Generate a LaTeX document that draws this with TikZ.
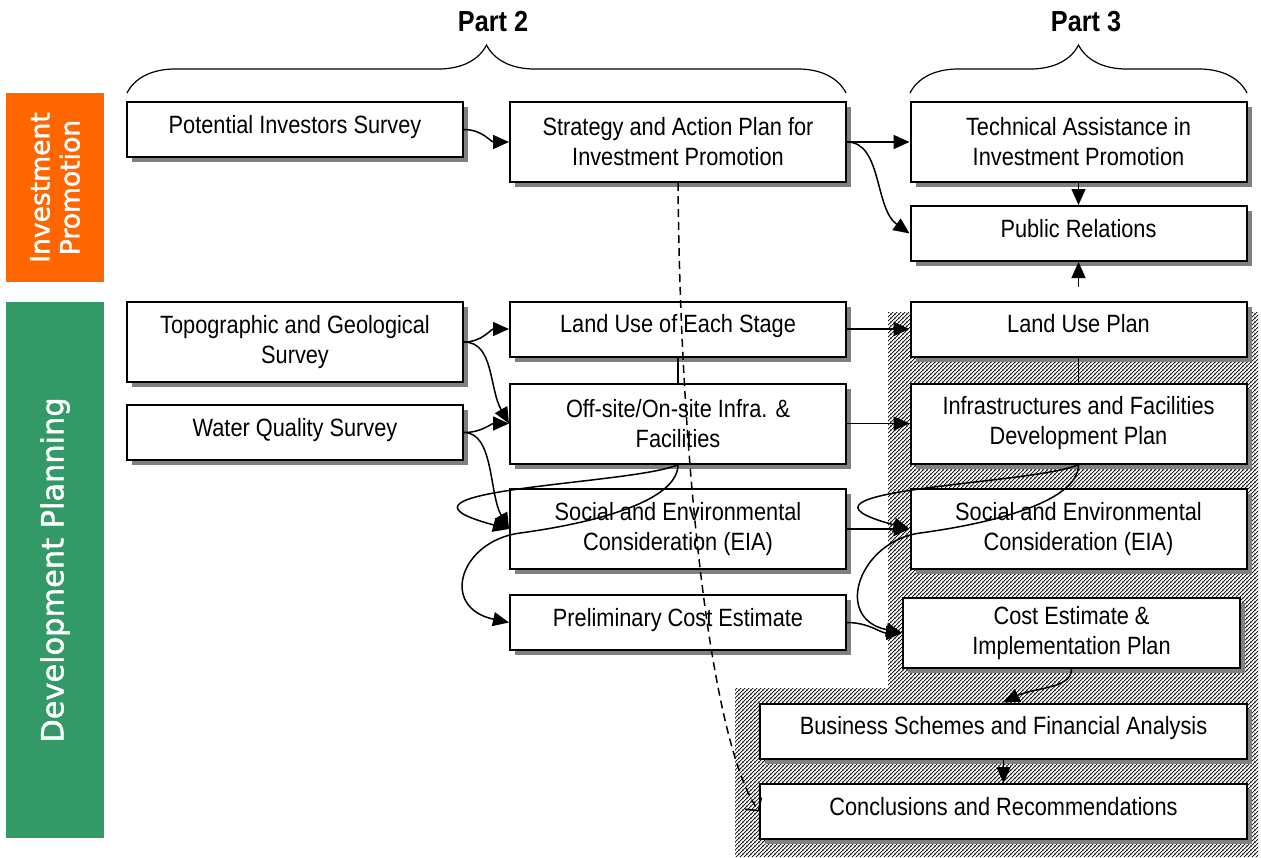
\documentclass[tikz,border=0pt]{standalone}
\usepackage{fontspec}
\setmainfont{Liberation Sans}[FakeStretch=0.87]
\newfontfamily\bandfont{DejaVu Sans}[FakeBold=1.5]
\usetikzlibrary{arrows.meta,shadows,decorations.pathreplacing,patterns.meta}
\definecolor{promoorange}{HTML}{FF6600}
\definecolor{plangreen}{HTML}{339966}
\tikzdeclarepattern{
  name=hatchlines,
  type=uncolored,
  bounding box={(0pt,0pt) and (2.1pt,2.1pt)},
  tile size={(2.1pt,2.1pt)},
  code={
    \draw[line width=0.42pt] (-1pt,-1pt) -- (3.1pt,3.1pt);
    \draw[line width=0.42pt] (-1pt,1.1pt) -- (1pt,3.1pt);
    \draw[line width=0.42pt] (1.1pt,-1pt) -- (3.1pt,1pt);
  }
}

\begin{document}
\begin{tikzpicture}[x=0.5pt, y=-0.5pt,
    font=\fontsize{12.5}{15}\selectfont,
    box/.style={draw, line width=1pt, fill=white, align=center, inner sep=2pt,
      minimum width=168pt, minimum height=27.5pt, text height=9.2pt, text depth=5.5pt,
      drop shadow={shadow xshift=2.5pt, shadow yshift=-2.5pt, fill=black!50, opacity=1}},
    tall/.style={box, minimum height=40pt, text height=, text depth=},
    wide/.style={box, minimum width=243.5pt},
    band/.style={rotate=90, text=white, align=center, inner sep=0pt, minimum height=49pt},
    parttitle/.style={font=\fontsize{14.5}{17}\selectfont\bfseries},
    partbrace/.style={decorate, decoration={brace, amplitude=24pt}, line width=0.6pt},
    arr/.style={line width=0.75pt, -{Triangle[length=8pt,width=7pt]}},
    link/.style={line width=0.75pt},
    dashline/.style={line width=0.75pt, dash pattern=on 4pt off 2.5pt, -{Straight Barb[length=4.5pt,width=10pt]}}]
    \useasboundingbox (0,0) rectangle (1261,857);

    \fill[pattern=hatchlines, pattern color=black] (888,312) -- (1258,312) -- (1258,857) -- (735,857) -- (735,688) -- (888,688) -- cycle;

    \node[band, fill=promoorange, minimum width=94.5pt, font=\bandfont\fontsize{13.3}{15}\selectfont] (ipband) at (55,187.5) {Investment\\Promotion};
    \node[band, fill=plangreen, minimum width=268pt, font=\bandfont\fontsize{15.2}{18}\selectfont] (dpband) at (55,570) {Development Planning};

    \draw[partbrace] (127,93) -- (846,93);
    \draw[partbrace] (910,93) -- (1247,93);
    \node[parttitle] (parttwo) at (493,22) {Part 2};
    \node[parttitle] (partthree) at (1086,22) {Part 3};

    \node[box] (pis) at (295,129.5) {Potential Investors Survey};
    \node[tall] (sap) at (678,142) {Strategy and Action Plan for\\Investment Promotion};
    \node[tall] (tai) at (1078.5,142) {Technical Assistance in\\Investment Promotion};
    \node[box] (pr) at (1078.5,233.5) {Public Relations};
    \node[tall] (tgs) at (295,342) {Topographic and Geological\\Survey};
    \node[box] (wqs) at (295,432.5) {Water Quality Survey};
    \node[box] (lue) at (678,329) {Land Use of Each Stage};
    \node[tall] (osi) at (678,423.5) {Off-site/On-site Infra. \&\\Facilities};
    \node[tall] (sec) at (678,529) {Social and Environmental\\Consideration (EIA)};
    \node[box] (pce) at (678,622.5) {Preliminary Cost Estimate};
    \node[box] (lup) at (1078.5,329) {Land Use Plan};
    \node[tall] (ifd) at (1078.5,423.5) {Infrastructures and Facilities\\Development Plan};
    \node[tall] (secp) at (1078.5,529) {Social and Environmental\\Consideration (EIA)};
    \node[tall, minimum width=168.5pt, minimum height=35pt] (cei) at (1071.5,633) {Cost Estimate \&\\Implementation Plan};
    \node[wide] (bsf) at (1003.5,731) {Business Schemes and Financial Analysis};
    \node[wide] (cnr) at (1003.5,811.5) {Conclusions and Recommendations};

    \coordinate (prfeed) at (1078.5,287);

    \draw[arr] (pis.east) to[out=0, in=180] (sap.west);
    \draw[arr] (sap.east) -- (tai.west);
    \draw[arr] (sap.east) .. controls +(35,0) and +(-35,-25) .. (pr.west);
    \draw[arr] (tai.south) -- (pr.north);
    \draw[arr] (prfeed) -- (pr.south);

    \draw[arr] (tgs.east) to[out=0, in=180] (lue.west);
    \draw[arr] (tgs.east) .. controls +(30,0) and +(-20,-35) .. (osi.west);
    \draw[arr] (wqs.east) to[out=0, in=180] (osi.west);
    \draw[arr] (wqs.east) .. controls +(30,0) and +(-20,-35) .. (sec.west);
    \draw[link] (lue.south) -- (osi.north);
    \draw[arr] (osi.south) .. controls +(-40,20) and +(-150,-40) .. (sec.west);
    \draw[arr] (osi.south) .. controls +(0,40) and +(60,-8) .. (520,533) .. controls +(-60,8) and +(-70,-15) .. (pce.west);

    \draw[arr] (lue.east) -- (lup.west);
    \draw[arr] (osi.east) -- (ifd.west);
    \draw[arr] (sec.east) -- (secp.west);
    \draw[arr] (pce.east) to[out=0, in=180] (cei.west);
    \draw[link] (lup.south) -- (ifd.north);
    \draw[arr] (ifd.south) .. controls +(-40,20) and +(-150,-40) .. (secp.west);
    \draw[arr] (ifd.south) .. controls +(0,40) and +(60,-8) .. (920,533) .. controls +(-60,8) and +(-70,-15) .. (cei.west);
    \draw[arr] (cei.south) .. controls +(0,20) and +(30,-15) .. (bsf.north);
    \draw[arr] (bsf.south) -- (cnr.north);

    \draw[dashline] (sap.south) .. controls +(2,268) and +(-50,-71) .. (cnr.west);
\end{tikzpicture}
\end{document}
